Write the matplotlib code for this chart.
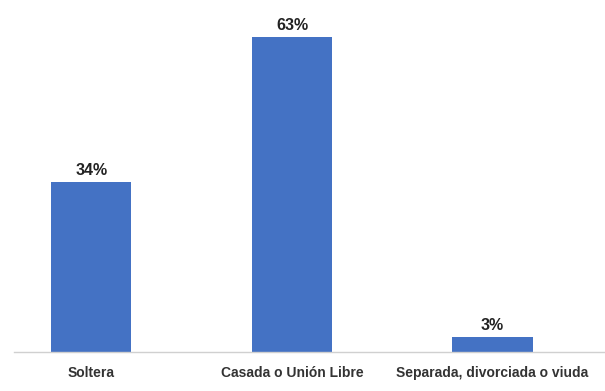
import matplotlib
matplotlib.use("Agg")
import matplotlib.pyplot as plt

categorias = ["Soltera", "Casada o Unión Libre", "Separada, divorciada o viuda"]
porcentajes = [34, 63, 3]

plt.rcParams["font.family"] = ["Liberation Sans", "DejaVu Sans"]

fig = plt.figure(figsize=(6.05, 3.91), dpi=100)
ax = fig.add_axes([14 / 605, 39 / 391, 1 - 14 / 605, 352 / 391])

x = range(len(categorias))
bars = ax.bar(x, porcentajes, width=0.4, color="#4472C4")

for b, v in zip(bars, porcentajes):
    ax.text(b.get_x() + b.get_width() / 2, v + 0.8, f"{v}%", ha="center", va="bottom",
            fontsize=11.5, fontweight="bold", color="#222222")

ax.set_xlim(-0.385, 2.56)
ax.set_ylim(0, 70.4)
ax.set_xticks(list(x))
ax.set_xticklabels(categorias, fontsize=10, fontweight="bold", color="#333333")
ax.tick_params(axis="x", length=0, pad=10)
ax.set_yticks([])
for s in ["top", "right", "left"]:
    ax.spines[s].set_visible(False)
ax.spines["bottom"].set_color("#d0d0d0")
ax.spines["bottom"].set_linewidth(1)

fig.savefig("out.png", dpi=100)
